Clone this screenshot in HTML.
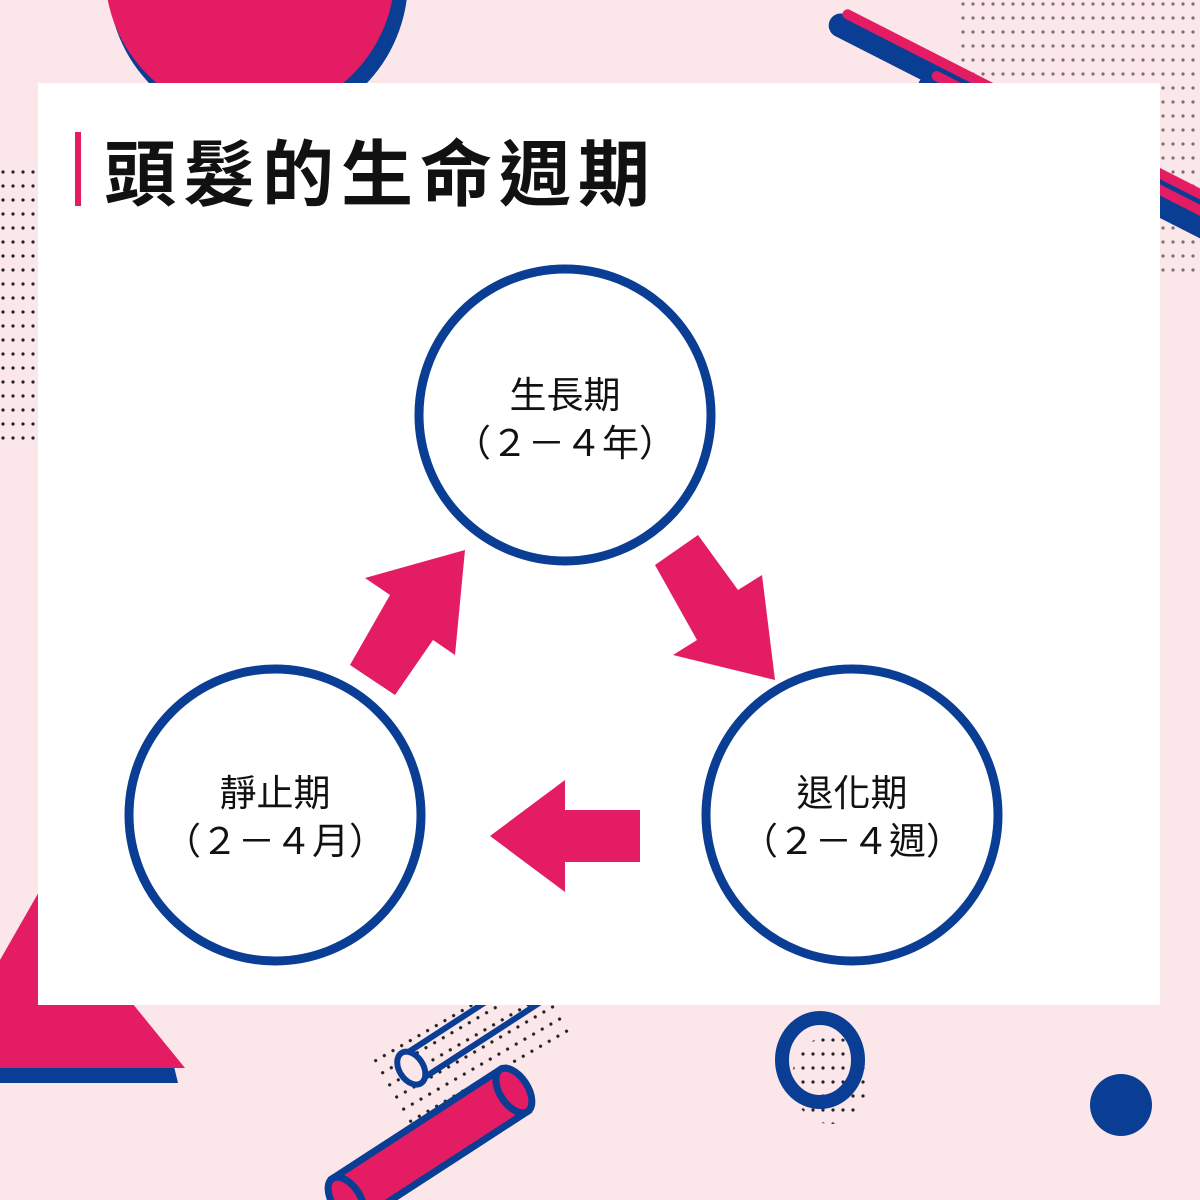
<!DOCTYPE html>
<html><head><meta charset="utf-8"><style>
html,body{margin:0;padding:0;background:#fbe7e9}
svg{display:block}
text{font-family:"Liberation Sans","Noto Sans CJK TC",sans-serif}
</style></head><body>
<svg width="1200" height="1200" viewBox="0 0 1200 1200" xmlns="http://www.w3.org/2000/svg">
<defs>
<pattern id="dots" width="10" height="14" patternUnits="userSpaceOnUse"><circle cx="3" cy="4" r="1.6" fill="#222"/></pattern>
</defs>
<rect width="1200" height="1200" fill="#fbe7e9"/>
<circle cx="258" cy="-20" r="150" fill="#0a3d94"/>
<circle cx="250" cy="-28" r="145" fill="#e31c64"/>
<rect x="960" y="0" width="260" height="280" fill="url(#dots)" opacity="0.6"/>
<g transform="rotate(27 830 20)">
<rect x="830" y="8" width="460" height="24" rx="12" fill="#0a3d94"/>
<rect x="838" y="2" width="460" height="10" rx="5" fill="#e31c64"/>
</g>
<g transform="rotate(27 920 80)">
<rect x="920" y="70" width="420" height="24" rx="12" fill="#0a3d94"/>
<rect x="928" y="64" width="420" height="10" rx="5" fill="#e31c64"/>
</g>
<rect x="0" y="160" width="40" height="280" fill="url(#dots)"/>
<polygon points="0,1083 178,1083 170,1050 0,1050" fill="#0a3d94"/>
<polygon points="40,890 185,1068 0,1068 0,960" fill="#e31c64"/>
<rect x="380" y="1010" width="190" height="80" fill="url(#dots)" transform="rotate(-30 470 1050)"/>
<g transform="rotate(-33 470 1030)">
<rect x="400" y="1015" width="150" height="30" fill="none" stroke="#0a3d94" stroke-width="6"/>
<ellipse cx="400" cy="1030" rx="12" ry="18" fill="#fbe7e9" stroke="#0a3d94" stroke-width="6"/>
</g>
<g transform="rotate(-33 430 1145)">
<rect x="330" y="1120" width="200" height="50" fill="#e31c64" stroke="#0a3d94" stroke-width="7"/>
<ellipse cx="530" cy="1145" rx="14" ry="25" fill="#e31c64" stroke="#0a3d94" stroke-width="7"/>
<ellipse cx="330" cy="1145" rx="14" ry="25" fill="#e31c64" stroke="#0a3d94" stroke-width="7"/>
</g>
<ellipse cx="830" cy="1080" rx="38" ry="44" fill="url(#dots)"/>
<ellipse cx="820" cy="1060" rx="38" ry="42" fill="none" stroke="#0a3d94" stroke-width="14"/>
<circle cx="1121" cy="1105" r="31" fill="#0a3d94"/>
<rect x="38" y="83" width="1122" height="922" fill="#fff"/>
<rect x="75" y="132" width="6" height="74" fill="#e31c64"/>
<text x="104" y="200" font-size="72" font-weight="bold" fill="#111" letter-spacing="7">頭髮的生命週期</text>
<g fill="none" stroke="#0a3d94" stroke-width="9">
<circle cx="565" cy="415" r="146"/>
<circle cx="275" cy="815" r="146"/>
<circle cx="852" cy="815" r="146"/>
</g>
<g font-size="37" fill="#111" text-anchor="middle">
<text x="565" y="408">生長期</text>
<text x="565" y="456">（２－４年）</text>
<text x="275" y="806">靜止期</text>
<text x="275" y="854">（２－４月）</text>
<text x="852" y="806">退化期</text>
<text x="852" y="854">（２－４週）</text>
</g>
<g fill="#e31c64">
<polygon points="640,810 640,862 565,862 565,892 490,836 565,780 565,810"/>
<polygon points="350,665 395,695 433,640 455,655 465,550 365,578 390,595"/>
<polygon points="655,565 698,535 738,590 762,575 775,680 673,655 697,640"/>
</g>
</svg>
</body></html>
